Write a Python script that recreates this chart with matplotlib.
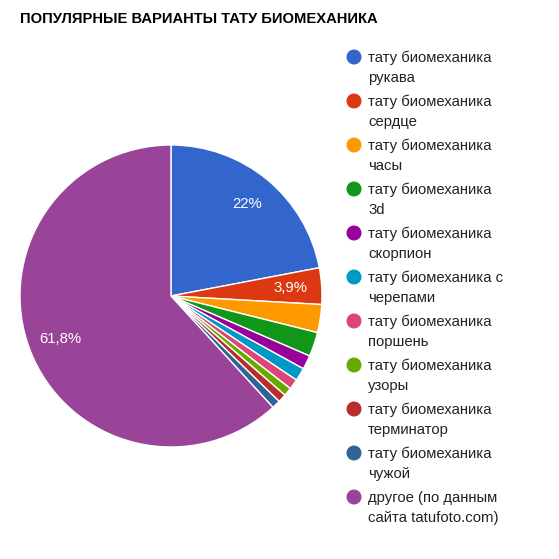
import matplotlib
matplotlib.use("Agg")
import matplotlib.pyplot as plt
from matplotlib.patches import Circle

title = "ПОПУЛЯРНЫЕ ВАРИАНТЫ ТАТУ БИОМЕХАНИКА"
labels = [
    "тату биомеханика\nрукава",
    "тату биомеханика\nсердце",
    "тату биомеханика\nчасы",
    "тату биомеханика\n3d",
    "тату биомеханика\nскорпион",
    "тату биомеханика с\nчерепами",
    "тату биомеханика\nпоршень",
    "тату биомеханика\nузоры",
    "тату биомеханика\nтерминатор",
    "тату биомеханика\nчужой",
    "другое (по данным\nсайта tatufoto.com)",
]
values = [22.0, 3.9, 3.0, 2.6, 1.5, 1.4, 1.1, 0.9, 0.9, 0.9, 61.8]
colors = ["#3366cc", "#dc3912", "#ff9900", "#109618", "#990099", "#0099c6",
          "#dd4477", "#66aa00", "#b82e2e", "#316395", "#994499"]

plt.rcParams['font.family'] = ['Liberation Sans', 'DejaVu Sans']

W = 559
fig = plt.figure(figsize=(5.59, 5.59), dpi=100)
cx, cy, r = 171, 296, 151
ax = fig.add_axes([(cx - r) / W, (W - cy - r) / W, 2 * r / W, 2 * r / W])

def fmt(p):
    if p < 3.5:
        return ""
    if abs(p - round(p)) < 0.05:
        return f"{round(p):d}%"
    return f"{p:.1f}%".replace(".", ",")

wedges, texts, autotexts = ax.pie(
    values, colors=colors, startangle=90, counterclock=False,
    autopct=fmt, pctdistance=0.79, radius=1.0,
    wedgeprops=dict(edgecolor="white", linewidth=1.0),
    textprops=dict(color="white", fontsize=10.7),
)
ax.set_xlim(-1, 1)
ax.set_ylim(-1, 1)
ax.set_aspect("equal")
ax.axis("off")

fig.text(20 / W, 1 - 19 / W, title, fontsize=10.6, fontweight="bold",
         color="#000000", va="center", ha="left")

y0 = 57
for i, (lab, col) in enumerate(zip(labels, colors)):
    y = y0 + i * 44
    fig.patches.append(Circle((354 / W, 1 - y / W), 6.8 / W, color=col,
                              transform=fig.transFigure))
    l1, l2 = lab.split("\n")
    fig.text(368 / W, 1 - (y + 1) / W, l1, fontsize=10.7, color="#222222",
             va="center", ha="left")
    fig.text(368 / W, 1 - (y + 21) / W, l2, fontsize=10.7, color="#222222",
             va="center", ha="left")

fig.savefig("out.png", dpi=100, facecolor="white")
